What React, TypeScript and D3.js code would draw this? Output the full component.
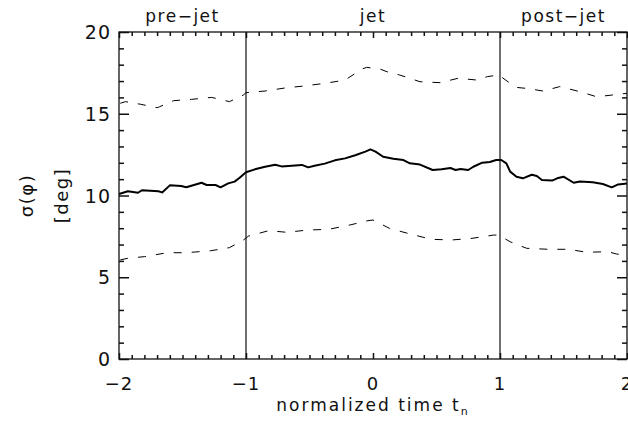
import React, { useEffect, useRef } from 'react';
import * as d3 from 'd3';

// sigma(phi) curves
const midT = [-2.0, -1.93, -1.85, -1.82, -1.69, -1.66, -1.6, -1.51, -1.47, -1.43, -1.35, -1.31, -1.24, -1.2, -1.14, -1.09, -1.05, -1.0, -0.93, -0.85, -0.77, -0.72, -0.64, -0.56, -0.51, -0.46, -0.38, -0.3, -0.22, -0.14, -0.06, -0.02, 0.02, 0.08, 0.16, 0.24, 0.29, 0.37, 0.47, 0.54, 0.61, 0.65, 0.69, 0.75, 0.79, 0.86, 0.92, 0.97, 1.01, 1.05, 1.08, 1.13, 1.18, 1.25, 1.29, 1.33, 1.41, 1.45, 1.5, 1.58, 1.63, 1.73, 1.81, 1.88, 1.93, 2.0];
const midV = [10.09, 10.26, 10.17, 10.32, 10.26, 10.19, 10.62, 10.58, 10.5, 10.6, 10.78, 10.64, 10.64, 10.5, 10.74, 10.85, 11.09, 11.42, 11.6, 11.76, 11.88, 11.78, 11.82, 11.87, 11.72, 11.82, 11.95, 12.15, 12.27, 12.46, 12.68, 12.82, 12.68, 12.37, 12.25, 12.17, 11.97, 11.89, 11.56, 11.6, 11.68, 11.56, 11.62, 11.56, 11.76, 12.01, 12.05, 12.17, 12.17, 11.97, 11.46, 11.15, 11.05, 11.27, 11.19, 10.95, 10.91, 11.05, 11.15, 10.78, 10.85, 10.81, 10.7, 10.5, 10.68, 10.74];

const upT = [-1.99, -1.95, -1.83, -1.7, -1.68, -1.57, -1.43, -1.27, -1.13, -1.02, -1.0, -0.85, -0.69, -0.54, -0.38, -0.22, -0.09, -0.05, 0.06, 0.11, 0.21, 0.37, 0.53, 0.67, 0.82, 0.9, 0.99, 1.08, 1.13, 1.21, 1.34, 1.47, 1.63, 1.76, 1.89, 2.0];
const upV = [15.64, 15.74, 15.58, 15.37, 15.43, 15.8, 15.88, 16.0, 15.74, 16.15, 16.29, 16.39, 16.58, 16.7, 16.86, 17.06, 17.72, 17.84, 17.72, 17.57, 17.37, 16.96, 16.9, 17.17, 17.06, 17.27, 17.37, 16.86, 16.61, 16.55, 16.39, 16.66, 16.35, 16.04, 16.15, 16.25];

const loT = [-1.99, -1.93, -1.8, -1.62, -1.47, -1.28, -1.13, -1.02, -0.98, -0.82, -0.68, -0.51, -0.35, -0.18, -0.04, 0.0, 0.13, 0.29, 0.46, 0.62, 0.78, 0.95, 0.99, 1.08, 1.21, 1.38, 1.54, 1.68, 1.85, 1.92, 2.0];
const loV = [6.06, 6.16, 6.26, 6.5, 6.5, 6.62, 6.81, 7.28, 7.52, 7.85, 7.75, 7.89, 7.93, 8.2, 8.46, 8.5, 7.99, 7.65, 7.32, 7.28, 7.38, 7.58, 7.58, 7.17, 6.77, 6.71, 6.71, 6.53, 6.56, 6.42, 6.36];

const xTicks = [-2, -1, 0, 1, 2];
const xTickLabels = ['\u22122', '\u22121', '0', '1', '2'];
const yTicks = [0, 5, 10, 15, 20];
const phaseNames = ['pre\u2212jet', 'jet', 'post\u2212jet'];
const phaseCenters = [-1.5, 0, 1.5];
const phaseBounds = [-1, 1];

const App = () => {
  const ref = useRef<SVGSVGElement | null>(null);

  useEffect(() => {
    const width = 628;
    const height = 422;
    const margin = { top: 32, right: 1, bottom: 63, left: 119 };
    const font = '"DejaVu Sans", sans-serif';
    const ink = '#111';

    const svg = d3.select(ref.current);
    svg.selectAll('*').remove();

    const x = d3.scaleLinear().domain([-2, 2]).range([margin.left, width - margin.right]);
    const y = d3.scaleLinear().domain([0, 20]).range([height - margin.bottom, margin.top]);
    const x0 = x(-2), x1 = x(2), y0 = y(0), y1 = y(20);

    const g = svg.append('g');

    // curves
    const line = d3.line<[number, number]>()
      .x(d => x(d[0]))
      .y(d => y(d[1]));

    const series = [
      { t: upT, v: upV, width: 1, dash: '8 10' },
      { t: loT, v: loV, width: 1, dash: '8 10' },
      { t: midT, v: midV, width: 2, dash: null },
    ];
    series.forEach(s => {
      const pts = s.t.map((t, i) => [t, s.v[i]] as [number, number]);
      g.append('path')
        .attr('d', line(pts))
        .attr('fill', 'none')
        .attr('stroke', '#000')
        .attr('stroke-width', s.width)
        .attr('stroke-dasharray', s.dash)
        .attr('stroke-linejoin', 'round');
    });

    // ticks via d3 axes, pointing inward, no labels
    const xMinor = d3.range(-20, 21).filter(k => k % 10 !== 0).map(k => k / 10);
    const yMinor = d3.range(0, 21).filter(v => v % 5 !== 0);
    const addAxis = (axis: any, tx: number, ty: number) => {
      const a = g.append('g')
        .attr('transform', `translate(${tx},${ty})`)
        .call(axis);
      a.select('.domain').remove();
      a.selectAll('text').remove();
      a.selectAll('line').attr('stroke', ink).attr('stroke-width', 1.5);
    };
    addAxis(d3.axisBottom(x).tickValues(xTicks).tickSize(-6), 0, y0);
    addAxis(d3.axisBottom(x).tickValues(xMinor).tickSize(-4), 0, y0);
    addAxis(d3.axisTop(x).tickValues(xTicks).tickSize(-6), 0, y1);
    addAxis(d3.axisTop(x).tickValues(xMinor).tickSize(-4), 0, y1);
    addAxis(d3.axisLeft(y).tickValues(yTicks).tickSize(-10), x0, 0);
    addAxis(d3.axisLeft(y).tickValues(yMinor).tickSize(-5), x0, 0);
    addAxis(d3.axisRight(y).tickValues(yTicks).tickSize(-10), x1, 0);
    addAxis(d3.axisRight(y).tickValues(yMinor).tickSize(-5), x1, 0);

    // frame
    g.append('rect')
      .attr('x', x0)
      .attr('y', y1)
      .attr('width', x1 - x0)
      .attr('height', y0 - y1)
      .attr('fill', 'none')
      .attr('stroke', ink)
      .attr('stroke-width', 1.3);

    // phase boundaries
    phaseBounds.forEach(b => {
      g.append('line')
        .attr('x1', x(b))
        .attr('x2', x(b))
        .attr('y1', y0)
        .attr('y2', y1)
        .attr('stroke', ink)
        .attr('stroke-width', 1.2);
    });

    // tick labels
    xTicks.forEach((t, i) => {
      g.append('text')
        .attr('x', x(t))
        .attr('y', 390)
        .attr('text-anchor', 'middle')
        .style('font-family', font)
        .style('font-size', '18px')
        .style('letter-spacing', '1px')
        .attr('fill', ink)
        .text(xTickLabels[i]);
    });

    yTicks.forEach(v => {
      g.append('text')
        .attr('x', x0 - 8)
        .attr('y', y(v) + 7)
        .attr('text-anchor', 'end')
        .style('font-family', font)
        .style('font-size', '19px')
        .style('letter-spacing', '1px')
        .attr('fill', ink)
        .text(String(v));
    });

    // phase names
    phaseNames.forEach((name, i) => {
      g.append('text')
        .attr('x', x(phaseCenters[i]))
        .attr('y', 22)
        .attr('text-anchor', 'middle')
        .style('font-family', font)
        .style('font-size', '17px')
        .style('letter-spacing', '1.5px')
        .attr('fill', ink)
        .text(name);
    });

    // axis titles
    const xt = g.append('text')
      .attr('x', x(0))
      .attr('y', 411)
      .attr('text-anchor', 'middle')
      .style('font-family', font)
      .style('font-size', '17px')
      .style('letter-spacing', '2px')
      .attr('fill', ink);
    xt.append('tspan').text('normalized time t');
    xt.append('tspan').attr('dy', 4).style('font-size', '11px').text('n');

    const yMid = y(10);
    g.append('text')
      .attr('transform', `translate(33,${yMid}) rotate(-90)`)
      .attr('text-anchor', 'middle')
      .style('font-family', font)
      .style('font-size', '18px')
      .style('letter-spacing', '1.5px')
      .attr('fill', ink)
      .text('\u03c3(\u03c6)');
    g.append('text')
      .attr('transform', `translate(68,${yMid}) rotate(-90)`)
      .attr('text-anchor', 'middle')
      .style('font-family', font)
      .style('font-size', '18px')
      .style('letter-spacing', '1.5px')
      .attr('fill', ink)
      .text('[deg]');
  }, []);

  return (
    <svg
      ref={ref}
      width={628}
      height={422}
      style={{ position: 'absolute', left: 0, top: 0, background: '#fff' }}
    />
  );
};

export default App;
